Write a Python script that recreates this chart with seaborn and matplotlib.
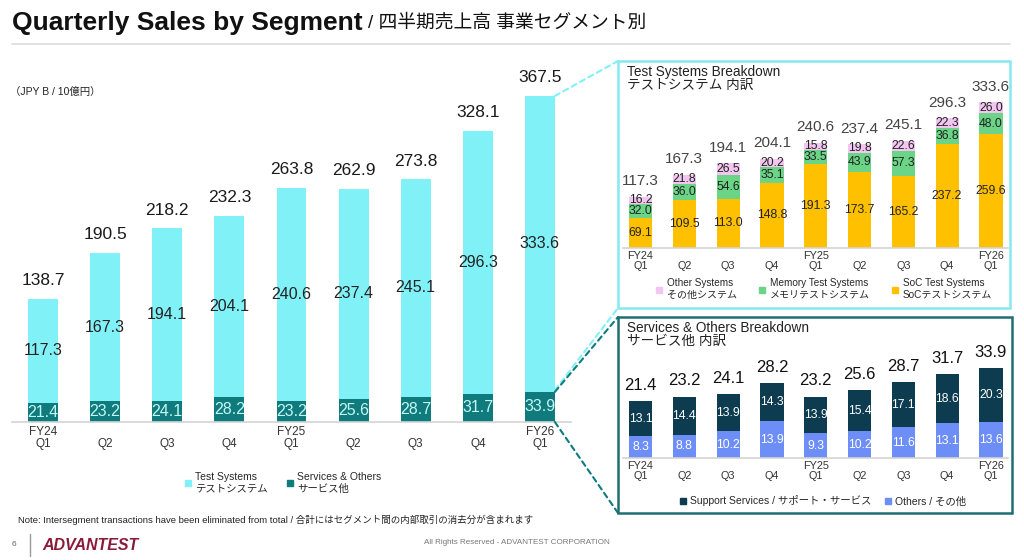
import matplotlib
matplotlib.use("Agg")
import matplotlib.pyplot as plt
import seaborn as sns
from matplotlib.lines import Line2D
from matplotlib.patches import Rectangle, ConnectionPatch

# ---------------- data ----------------
quarters = ["FY24 Q1", "FY24 Q2", "FY24 Q3", "FY24 Q4", "FY25 Q1",
            "FY25 Q2", "FY25 Q3", "FY25 Q4", "FY26 Q1"]
tick_labels = ["FY24\nQ1", "\nQ2", "\nQ3", "\nQ4", "FY25\nQ1",
               "\nQ2", "\nQ3", "\nQ4", "FY26\nQ1"]

test_systems = [117.3, 167.3, 194.1, 204.1, 240.6, 237.4, 245.1, 296.3, 333.6]
services_others = [21.4, 23.2, 24.1, 28.2, 23.2, 25.6, 28.7, 31.7, 33.9]
total_sales = [138.7, 190.5, 218.2, 232.3, 263.8, 262.9, 273.8, 328.1, 367.5]

soc_test = [69.1, 109.5, 113.0, 148.8, 191.3, 173.7, 165.2, 237.2, 259.6]
memory_test = [32.0, 36.0, 54.6, 35.1, 33.5, 43.9, 57.3, 36.8, 48.0]
other_systems = [16.2, 21.8, 26.5, 20.2, 15.8, 19.8, 22.6, 22.3, 26.0]

others = [8.3, 8.8, 10.2, 13.9, 9.3, 10.2, 11.6, 13.1, 13.6]
support_services = [13.1, 14.4, 13.9, 14.3, 13.9, 15.4, 17.1, 18.6, 20.3]
services_total = [21.4, 23.2, 24.1, 28.2, 23.2, 25.6, 28.7, 31.7, 33.9]

# ---------------- style ----------------
C_TEST = "#80F2F7"
C_SERV = "#0F7B7C"
C_OTHER_SYS = "#F2C6F0"
C_MEM = "#6BD487"
C_SOC = "#FFC000"
C_SUPPORT = "#0D3B4F"
C_OTHERS = "#6E8EF7"
C_BOX_TOP = "#86E9EE"
C_BOX_BOT = "#1F6F72"

sns.set_theme(style="white")
plt.rcParams['font.family'] = ['Liberation Sans', 'Noto Sans CJK JP', 'DejaVu Sans']

W, H = 1024, 560
fig = plt.figure(figsize=(W / 100, H / 100), dpi=100)
fig.patch.set_facecolor("white")


def fx(px):
    return px / W


def fy(py):
    return 1 - py / H


def stacked(ax, layers, colors, width):
    run = [0.0] * len(quarters)
    cums = []
    for layer in layers:
        run = [a + b for a, b in zip(run, layer)]
        cums.append(run)
    for cum, col in reversed(list(zip(cums, colors))):
        sns.barplot(x=quarters, y=cum, order=quarters, color=col, width=width,
                    saturation=1, linewidth=0, ax=ax)
    return cums


def seg_labels(ax, layers, colors_txt, fontsize):
    base = [0.0] * len(quarters)
    for layer, tc in zip(layers, colors_txt):
        for i, v in enumerate(layer):
            ax.text(i, base[i] + v / 2, f"{v:.1f}", ha="center", va="center",
                    fontsize=fontsize, color=tc)
        base = [b + v for b, v in zip(base, layer)]


def total_labels(ax, totals, tops, fontsize, offset, color):
    for i, (t, top) in enumerate(zip(totals, tops)):
        ax.annotate(f"{t:.1f}", xy=(i, top), xytext=(0, offset),
                    textcoords="offset points", ha="center", va="center",
                    fontsize=fontsize, color=color)


def style_axis(ax, xl, yl, tick_fs, pad):
    ax.set_xlim(*xl)
    ax.set_ylim(*yl)
    ax.set_facecolor("none")
    for s in ["top", "right", "left"]:
        ax.spines[s].set_visible(False)
    ax.spines["bottom"].set_color("#d4d4d4")
    ax.spines["bottom"].set_linewidth(1.2)
    ax.set_yticks([])
    ax.set_xlabel("")
    ax.set_ylabel("")
    ax.set_xticks(range(len(quarters)))
    ax.set_xticklabels(tick_labels, fontsize=tick_fs, linespacing=0.95, color="#333333")
    ax.tick_params(axis="x", length=0, pad=pad)


# ---------------- main chart ----------------
ax = fig.add_axes([fx(12), fy(422), fx(571 - 12), (422 - 60) / H])
w_main = 0.48
stacked(ax, [services_others, test_systems], [C_SERV, C_TEST], w_main)
seg_labels(ax, [services_others, test_systems], ["#c4f7f7", "#222222"], 11.5)
total_labels(ax, total_sales, [s + t for s, t in zip(services_others, test_systems)],
             12.5, 13, "#1a1a1a")
style_axis(ax, (-0.5, 8.5), (0, 408), 8.5, 3)

# ---------------- test systems breakdown ----------------
ax2 = fig.add_axes([fx(623), fy(248), fx(8.8 * 43.8), (248 - 90) / H])
w_small = 0.53
cum2 = stacked(ax2, [soc_test, memory_test, other_systems], [C_SOC, C_MEM, C_OTHER_SYS], w_small)
seg_labels(ax2, [soc_test, memory_test, other_systems], ["#222222", "#222222", "#222222"], 8.8)
total_labels(ax2, test_systems, cum2[-1], 11, 11, "#444444")
style_axis(ax2, (-0.4, 8.4), (0, 360.7), 7.8, 2.5)

# ---------------- services breakdown ----------------
ax3 = fig.add_axes([fx(623), fy(458), fx(8.8 * 43.8), (458 - 340) / H])
cum3 = stacked(ax3, [others, support_services], [C_OTHERS, C_SUPPORT], w_small)
seg_labels(ax3, [others, support_services], ["white", "white"], 8.8)
total_labels(ax3, services_total, cum3[-1], 12, 11.5, "#111111")
style_axis(ax3, (-0.4, 8.4), (0, 44.6), 7.8, 2.5)

# ---------------- panel boxes ----------------
fig.add_artist(Rectangle((fx(618), fy(308)), fx(1010 - 618), (308 - 61) / H,
                         transform=fig.transFigure, fill=False,
                         edgecolor=C_BOX_TOP, linewidth=1.8, zorder=3))
fig.add_artist(Rectangle((fx(618), fy(513)), fx(1012 - 618), (513 - 317) / H,
                         transform=fig.transFigure, fill=False,
                         edgecolor=C_BOX_BOT, linewidth=1.8, zorder=3))

# connectors from last main bar to panels
xe = len(quarters) - 1 + w_main / 2
conns = [
    ((xe, total_sales[-1]), (fx(618), fy(61)), C_TEST),
    ((xe, services_others[-1] + 2), (fx(618), fy(308)), C_TEST),
    ((xe, services_others[-1]), (fx(618), fy(317)), C_SERV),
    ((xe, 0), (fx(618), fy(513)), C_SERV),
]
for a, b, col in conns:
    cp = ConnectionPatch(xyA=a, coordsA=ax.transData, xyB=b, coordsB=fig.transFigure,
                         color=col, linewidth=1.5, linestyle=(0, (2.6, 2.0)), zorder=2)
    fig.add_artist(cp)

# ---------------- panel titles ----------------
fig.text(fx(627), fy(72), "Test Systems Breakdown", fontsize=9.8, color="#222222", va="center")
fig.text(fx(627), fy(85), "テストシステム 内訳", fontsize=9.8, color="#222222", va="center")
fig.text(fx(627), fy(328), "Services & Others Breakdown", fontsize=9.8, color="#222222", va="center")
fig.text(fx(627), fy(341), "サービス他 内訳", fontsize=9.8, color="#222222", va="center")

# ---------------- legends ----------------
def mk(col, ms=5):
    return Line2D([], [], marker="s", linestyle="none", markersize=ms,
                  markerfacecolor=col, markeredgecolor=col)


fig.legend([mk(C_TEST), mk(C_SERV)],
           ["Test Systems\nテストシステム", "Services & Others\nサービス他"],
           loc="center", bbox_to_anchor=(fx(283), fy(483)), ncol=2, frameon=False,
           fontsize=7.5, handlelength=0.6, handletextpad=0.4, columnspacing=1.8,
           labelspacing=0.2, borderpad=0)

fig.legend([mk(C_OTHER_SYS), mk(C_MEM), mk(C_SOC)],
           ["Other Systems\nその他システム", "Memory Test Systems\nメモリテストシステム",
            "SoC Test Systems\nSoCテストシステム"],
           loc="center", bbox_to_anchor=(fx(824), fy(289)), ncol=3, frameon=False,
           fontsize=7.2, handlelength=0.6, handletextpad=0.5, columnspacing=2.2,
           labelspacing=0.2, borderpad=0)

fig.legend([mk(C_SUPPORT), mk(C_OTHERS)],
           ["Support Services / サポート・サービス", "Others / その他"],
           loc="center", bbox_to_anchor=(fx(823), fy(501)), ncol=2, frameon=False,
           fontsize=7.5, handlelength=0.6, handletextpad=0.4, columnspacing=1.2,
           borderpad=0)

# ---------------- header ----------------
t1 = fig.text(fx(12), fy(23), "Quarterly Sales by Segment", fontsize=19, fontweight="bold",
              color="#111111", va="center")
fig.canvas.draw()
bb = t1.get_window_extent(renderer=fig.canvas.get_renderer())
fig.text(bb.x1 / W + fx(5), fy(23), "/ 四半期売上高 事業セグメント別", fontsize=13.5,
         color="#111111", va="center")
fig.add_artist(Line2D([fx(12), fx(1010)], [fy(44), fy(44)], color="#dcdcdc", linewidth=1.2,
                      transform=fig.transFigure))
fig.text(fx(10), fy(92), "（JPY B / 10億円）", fontsize=7.5, color="#222222", va="center")

# ---------------- footer ----------------
fig.text(fx(18), fy(520), "Note: Intersegment transactions have been eliminated from total / "
         "合計にはセグメント間の内部取引の消去分が含まれます",
         fontsize=6.8, color="#222222", va="center")
fig.text(fx(12), fy(545), "6", fontsize=6, color="#666666", va="center")
fig.add_artist(Line2D([fx(30), fx(30)], [fy(534), fy(556)], color="#999999", linewidth=1,
                      transform=fig.transFigure))
fig.text(fx(42), fy(545), "ADVANTEST", fontsize=11.5, fontweight="bold", fontstyle="italic",
         color="#8B1A3A", va="center")
fig.text(fx(517), fy(543), "All Rights Reserved - ADVANTEST CORPORATION", fontsize=5.8,
         color="#777777", va="center", ha="center")

fig.savefig("out.png", dpi=100, facecolor="white")
